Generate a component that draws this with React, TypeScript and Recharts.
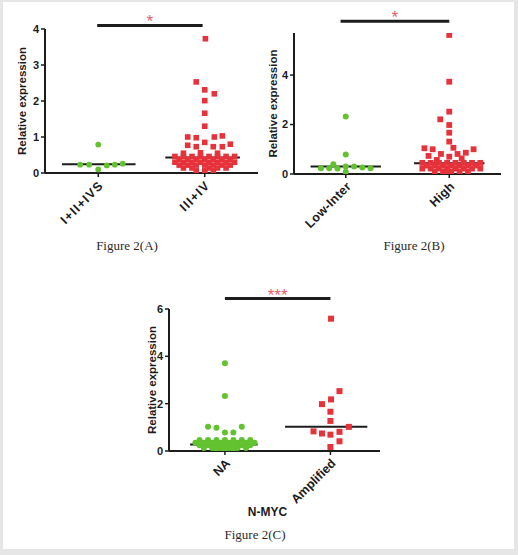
import { ScatterChart, Scatter, XAxis, YAxis, ReferenceLine } from 'recharts';

const GREEN = '#62c22f';
const RED = '#e6323b';
const STAR = '#e8616c';
const INK = '#1c1c1c';
const SANS = '"Liberation Sans", Arial, sans-serif';
const SERIF = '"Liberation Serif", "Times New Roman", serif';

type Pt = { x: number; y: number };

// x = category index + jitter, y = relative expression

// Figure 2(A): stage
const stageCategories = ['I+II+IVS', 'III+IV'];
const stageEarly: Pt[] = [
    { x: -0.17, y: 0.23 }, { x: -0.085, y: 0.23 }, { x: 0, y: 0.79 }, { x: 0, y: 0.1 },
    { x: 0.08, y: 0.21 }, { x: 0.155, y: 0.23 }, { x: 0.23, y: 0.26 },
];
const stageLate: Pt[] = [
    { x: 1.006, y: 3.73 }, { x: 0.92, y: 2.53 }, { x: 1, y: 2.31 }, { x: 1.09, y: 2.2 },
    { x: 1, y: 2.01 }, { x: 1, y: 1.66 }, { x: 1, y: 1.3 }, { x: 0.84, y: 1.0 },
    { x: 0.92, y: 0.98 }, { x: 1.09, y: 1.0 }, { x: 1.165, y: 1.03 }, { x: 1, y: 0.85 },
    { x: 0.84, y: 0.77 }, { x: 0.92, y: 0.73 }, { x: 1.08, y: 0.73 }, { x: 1.165, y: 0.73 },
    { x: 1.24, y: 0.8 },
    { x: 0.8, y: 0.55 }, { x: 0.96, y: 0.56 }, { x: 1.12, y: 0.55 },
    { x: 0.72, y: 0.46 }, { x: 0.8, y: 0.46 }, { x: 0.88, y: 0.46 }, { x: 0.96, y: 0.46 },
    { x: 1.04, y: 0.46 }, { x: 1.12, y: 0.46 }, { x: 1.2, y: 0.46 }, { x: 1.28, y: 0.46 },
    { x: 0.76, y: 0.38 }, { x: 0.84, y: 0.38 }, { x: 0.92, y: 0.38 }, { x: 1, y: 0.38 },
    { x: 1.08, y: 0.38 }, { x: 1.16, y: 0.38 }, { x: 1.24, y: 0.38 },
    { x: 0.72, y: 0.3 }, { x: 0.8, y: 0.3 }, { x: 0.88, y: 0.3 }, { x: 0.96, y: 0.3 },
    { x: 1.04, y: 0.3 }, { x: 1.12, y: 0.3 }, { x: 1.2, y: 0.3 }, { x: 1.28, y: 0.3 },
    { x: 0.76, y: 0.22 }, { x: 0.84, y: 0.22 }, { x: 0.92, y: 0.22 }, { x: 1, y: 0.22 },
    { x: 1.08, y: 0.22 }, { x: 1.16, y: 0.22 }, { x: 1.24, y: 0.22 },
    { x: 0.8, y: 0.14 }, { x: 0.88, y: 0.14 }, { x: 1.04, y: 0.14 }, { x: 1.12, y: 0.14 },
    { x: 1.2, y: 0.14 },
    { x: 0.92, y: 0.06 }, { x: 1, y: 0.06 }, { x: 1.08, y: 0.06 }, { x: 1, y: 0.01 },
];
const stageMedians = [0.24, 0.43];

// Figure 2(B): risk
const riskCategories = ['Low-Inter', 'High'];
const riskLow: Pt[] = [
    { x: 0, y: 2.32 }, { x: 0, y: 0.79 }, { x: -0.24, y: 0.23 }, { x: -0.16, y: 0.23 },
    { x: -0.12, y: 0.39 }, { x: -0.08, y: 0.22 }, { x: 0, y: 0.3 }, { x: 0.08, y: 0.3 },
    { x: 0.16, y: 0.26 }, { x: 0.24, y: 0.23 }, { x: 0, y: 0.09 },
];
const riskHigh: Pt[] = [
    { x: 1, y: 5.62 }, { x: 1, y: 3.73 }, { x: 1, y: 2.52 }, { x: 0.913, y: 2.21 },
    { x: 1, y: 1.98 }, { x: 1, y: 1.67 }, { x: 1, y: 1.31 }, { x: 0.76, y: 1.04 },
    { x: 0.84, y: 1.0 }, { x: 1.04, y: 1.06 }, { x: 1.235, y: 1.0 }, { x: 0.8, y: 0.73 },
    { x: 0.92, y: 0.81 }, { x: 1, y: 0.7 }, { x: 1.08, y: 0.81 }, { x: 1.16, y: 0.86 },
    { x: 0.88, y: 0.57 }, { x: 1.12, y: 0.63 },
    { x: 0.74, y: 0.45 }, { x: 0.82, y: 0.45 }, { x: 0.9, y: 0.45 }, { x: 0.98, y: 0.45 },
    { x: 1.06, y: 0.45 }, { x: 1.14, y: 0.45 }, { x: 1.22, y: 0.45 }, { x: 1.3, y: 0.45 },
    { x: 0.78, y: 0.34 }, { x: 0.86, y: 0.34 }, { x: 0.94, y: 0.34 }, { x: 1.02, y: 0.34 },
    { x: 1.1, y: 0.34 }, { x: 1.18, y: 0.34 }, { x: 1.26, y: 0.34 },
    { x: 0.74, y: 0.22 }, { x: 0.82, y: 0.22 }, { x: 0.9, y: 0.22 }, { x: 0.98, y: 0.22 },
    { x: 1.06, y: 0.22 }, { x: 1.14, y: 0.22 }, { x: 1.22, y: 0.22 }, { x: 1.3, y: 0.22 },
    { x: 0.86, y: 0.1 }, { x: 0.94, y: 0.1 }, { x: 1.02, y: 0.1 }, { x: 1.1, y: 0.1 },
    { x: 1.18, y: 0.1 }, { x: 0.98, y: 0.02 },
];
const riskMedians = [0.3, 0.43];

// Figure 2(C): N-MYC status
const mycCategories = ['NA', 'Amplified'];
const mycNormal: Pt[] = [
    { x: 0, y: 3.71 }, { x: 0, y: 2.32 }, { x: -0.16, y: 1.02 }, { x: -0.08, y: 0.98 },
    { x: 0.16, y: 1.02 }, { x: 0, y: 0.78 }, { x: 0.08, y: 0.78 },
    { x: -0.24, y: 0.47 }, { x: -0.16, y: 0.47 }, { x: -0.08, y: 0.47 }, { x: 0, y: 0.47 },
    { x: 0.08, y: 0.47 }, { x: 0.16, y: 0.47 }, { x: 0.24, y: 0.47 },
    { x: -0.28, y: 0.35 }, { x: -0.2, y: 0.35 }, { x: -0.12, y: 0.35 }, { x: -0.04, y: 0.35 },
    { x: 0.04, y: 0.35 }, { x: 0.12, y: 0.35 }, { x: 0.2, y: 0.35 }, { x: 0.28, y: 0.35 },
    { x: -0.24, y: 0.24 }, { x: -0.16, y: 0.24 }, { x: -0.08, y: 0.24 }, { x: 0, y: 0.24 },
    { x: 0.08, y: 0.24 }, { x: 0.16, y: 0.24 }, { x: 0.24, y: 0.24 },
    { x: -0.2, y: 0.13 }, { x: -0.12, y: 0.13 }, { x: -0.04, y: 0.13 }, { x: 0.04, y: 0.13 },
    { x: 0.12, y: 0.13 }, { x: 0.2, y: 0.13 },
    { x: -0.08, y: 0.04 }, { x: 0, y: 0.04 }, { x: 0.08, y: 0.04 },
];
const mycAmplified: Pt[] = [
    { x: 1.006, y: 5.59 }, { x: 1.086, y: 2.53 }, { x: 1.006, y: 2.18 }, { x: 0.92, y: 1.98 },
    { x: 1, y: 1.66 }, { x: 1, y: 1.27 }, { x: 1.175, y: 1.02 }, { x: 0.84, y: 0.83 },
    { x: 0.92, y: 0.74 }, { x: 1, y: 0.69 }, { x: 1.086, y: 0.81 }, { x: 1.086, y: 0.41 },
    { x: 1, y: 0.17 },
];
const mycMedians = [0.27, 1.02];

const axisStyle = { stroke: INK, strokeWidth: 2 };

const dot = (color: string, r: number) => (props: any) =>
    props.cx == null ? <g /> : <circle cx={props.cx} cy={props.cy} r={r} fill={color} />;

const square = (color: string, side: number) => (props: any) =>
    props.cx == null ? (
        <g />
    ) : (
        <rect x={props.cx - side / 2} y={props.cy - side / 2} width={side} height={side} fill={color} />
    );

function CategoryTick(props: any) {
    const { x, y, payload, labels, spacing } = props;
    return (
        <g transform={`translate(${x + 3},${y + 4})`}>
            <text
                x={0}
                y={0}
                dy="0.35em"
                textAnchor="end"
                transform="rotate(-45)"
                fill={INK}
                fontSize={12.5}
                fontWeight={700}
                letterSpacing={spacing}
                fontFamily={SANS}
            >
                {labels[payload.value]}
            </text>
        </g>
    );
}

interface PlotProps {
    left: number;
    top: number;
    width: number;
    height: number;
    margin: { top: number; right: number; bottom: number; left: number };
    xDomain: [number, number];
    xHeight: number;
    yDomain: [number, number];
    yTicks: number[];
    categories: string[];
    tickSpacing: number;
    low: Pt[];
    high: Pt[];
    medians: number[];
    spans: [number, number][];
    sigY: number;
    sigSpan: [number, number];
    stars: string;
    labelOffset: number;
    xLabel?: string;
    r: number;
    side: number;
}

function DotPlot(p: PlotProps) {
    return (
        <div style={{ position: 'absolute', left: p.left, top: p.top }}>
            <ScatterChart width={p.width} height={p.height} margin={p.margin}>
                <XAxis
                    type="number"
                    dataKey="x"
                    domain={p.xDomain}
                    ticks={[0, 1]}
                    interval={0}
                    height={p.xHeight}
                    axisLine={axisStyle}
                    tickLine={{ stroke: INK, strokeWidth: 1.5 }}
                    tickSize={4}
                    tick={(t: any) => <CategoryTick {...t} labels={p.categories} spacing={p.tickSpacing} />}
                    allowDataOverflow
                    label={
                        p.xLabel
                            ? {
                                  value: p.xLabel,
                                  position: 'insideBottom',
                                  offset: 5,
                                  dx: -7,
                                  fill: INK,
                                  fontSize: 12,
                                  fontWeight: 700,
                                  fontFamily: SANS,
                              }
                            : undefined
                    }
                />
                <YAxis
                    type="number"
                    dataKey="y"
                    domain={p.yDomain}
                    ticks={p.yTicks}
                    width={30}
                    axisLine={axisStyle}
                    tickLine={{ stroke: INK, strokeWidth: 1.5 }}
                    tickSize={4}
                    tick={{ fill: INK, fontSize: 11, fontWeight: 700, fontFamily: SANS }}
                    allowDataOverflow
                    label={{
                        value: 'Relative expression',
                        angle: -90,
                        position: 'insideLeft',
                        offset: p.labelOffset,
                        fill: INK,
                        fontSize: 11.5,
                        fontWeight: 700,
                        fontFamily: SANS,
                        style: { textAnchor: 'middle' },
                    }}
                />
                <Scatter data={p.low} shape={dot(GREEN, p.r)} isAnimationActive={false} />
                <Scatter data={p.high} shape={square(RED, p.side)} isAnimationActive={false} />
                {p.medians.map((m, i) => (
                    <ReferenceLine
                        key={i}
                        segment={[
                            { x: i + p.spans[i][0], y: m },
                            { x: i + p.spans[i][1], y: m },
                        ]}
                        stroke={INK}
                        strokeWidth={2}
                        ifOverflow="visible"
                    />
                ))}
                <ReferenceLine
                    segment={[
                        { x: p.sigSpan[0], y: p.sigY },
                        { x: p.sigSpan[1], y: p.sigY },
                    ]}
                    stroke={INK}
                    strokeWidth={3}
                    ifOverflow="visible"
                    label={{
                        value: p.stars,
                        position: 'top',
                        offset: -2,
                        fill: STAR,
                        fontSize: 17,
                        fontFamily: SANS,
                    }}
                />
            </ScatterChart>
        </div>
    );
}

const captionStyle = {
    position: 'absolute' as const,
    width: 120,
    textAlign: 'center' as const,
    fontFamily: SERIF,
    fontSize: 13,
    color: '#2a2a2a',
    lineHeight: '14px',
};

export default function App() {
    return (
        <div style={{ position: 'absolute', left: 0, top: 0, width: 518, height: 555, background: '#e6e6e6' }}>
            <div style={{ position: 'absolute', left: 3, top: 2, width: 511, height: 547, background: '#fff' }} />
            <DotPlot
                left={0}
                top={0}
                width={268}
                height={240}
                margin={{ top: 29, right: 10, bottom: 7, left: 15 }}
                xDomain={[-0.5, 1.5]}
                xHeight={60}
                yDomain={[0, 4]}
                yTicks={[0, 1, 2, 3, 4]}
                categories={stageCategories}
                tickSpacing={1.2}
                low={stageEarly}
                high={stageLate}
                medians={stageMedians}
                spans={[[-0.34, 0.35], [-0.37, 0.33]]}
                sigY={4.1}
                sigSpan={[-0.01, 0.98]}
                stars="*"
                labelOffset={7}
                r={2.9}
                side={5.6}
            />
            <DotPlot
                left={250}
                top={0}
                width={260}
                height={240}
                margin={{ top: 33, right: 9, bottom: 6, left: 14 }}
                xDomain={[-0.5, 1.5]}
                xHeight={60}
                yDomain={[0, 5.7]}
                yTicks={[0, 2, 4]}
                categories={riskCategories}
                tickSpacing={0.3}
                low={riskLow}
                high={riskHigh}
                medians={riskMedians}
                spans={[[-0.34, 0.34], [-0.34, 0.34]]}
                sigY={6.17}
                sigSpan={[-0.05, 1.0]}
                stars="*"
                labelOffset={9}
                r={3}
                side={5.8}
            />
            <DotPlot
                left={120}
                top={280}
                width={270}
                height={245}
                margin={{ top: 29, right: 10, bottom: 4, left: 19 }}
                xDomain={[-0.53, 1.47]}
                xHeight={70}
                yDomain={[0, 6]}
                yTicks={[0, 2, 4, 6]}
                categories={mycCategories}
                tickSpacing={0}
                low={mycNormal}
                high={mycAmplified}
                medians={mycMedians}
                spans={[[-0.33, 0.31], [-0.43, 0.35]]}
                sigY={6.44}
                sigSpan={[0, 1.0]}
                stars="***"
                labelOffset={13}
                xLabel="N-MYC"
                r={3}
                side={6}
            />
            <div style={{ ...captionStyle, left: 67, top: 239 }}>Figure 2(A)</div>
            <div style={{ ...captionStyle, left: 354, top: 239 }}>Figure 2(B)</div>
            <div style={{ ...captionStyle, left: 195, top: 528 }}>Figure 2(C)</div>
        </div>
    );
}
